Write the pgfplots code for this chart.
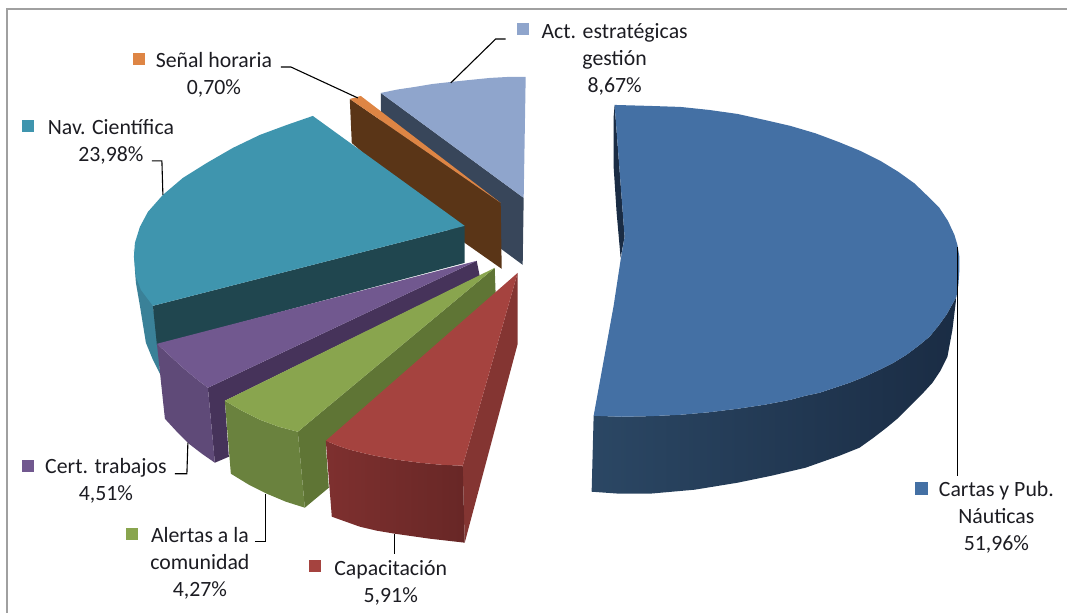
\documentclass[border=0pt]{standalone}
\usepackage{pgfplots}
\usepackage{fontspec}
\setmainfont{Carlito}
\pgfplotsset{compat=1.18}
\definecolor{blueT}{HTML}{4470A4}
\definecolor{blueA}{HTML}{2B4764}
\definecolor{blueB}{HTML}{1A2C44}
\definecolor{actT}{HTML}{8FA5CC}
\definecolor{actS}{HTML}{38465A}
\definecolor{oraT}{HTML}{DE8544}
\definecolor{oraS}{HTML}{5A3517}
\definecolor{teaT}{HTML}{3F95AE}
\definecolor{teaS}{HTML}{20464F}
\definecolor{teaO}{HTML}{3A8198}
\definecolor{purT}{HTML}{71588F}
\definecolor{purS}{HTML}{46335A}
\definecolor{purO}{HTML}{5F4A78}
\definecolor{greT}{HTML}{89A54E}
\definecolor{greS}{HTML}{5F7535}
\definecolor{greO}{HTML}{6A823E}
\definecolor{redT}{HTML}{A5433F}
\definecolor{redS}{HTML}{843532}
\definecolor{redA}{HTML}{7E302F}
\definecolor{redB}{HTML}{682726}
\definecolor{frameC}{HTML}{A0A0A0}
\definecolor{txt}{HTML}{1C1C22}
\begin{document}
\begin{tikzpicture}[lab/.style={align=center,text=txt,font=\fontsize{21.8}{27}\selectfont,inner sep=0pt}]
\begin{axis}[scale only axis,width=1068pt,height=613pt,xmin=0,xmax=1068,ymin=0,ymax=613,y dir=reverse,hide axis,clip=false]
% page extent
\addplot[draw=none] coordinates {(0,0) (1068,613)};
% frame
\addplot[frameC,line width=1.3pt] coordinates {(7,613) (7,9) (1068,9)};
% act estrategicas
\addplot[fill=actS,draw=none] coordinates {(381,93) (524,198) (523,265) (381,160)};
\addplot[fill=actT,draw=none] coordinates {(381,93) (398,89.5) (415,87) (433,84) (451,82) (470,80) (490,78) (508,77) (526,77) (524,198)};
% senal horaria
\addplot[fill=oraS,draw=none] coordinates {(350,99) (501,203) (502,269) (465,243) (352,143)};
\addplot[fill=oraT,draw=none] coordinates {(350,99) (361,96) (501,203)};
% nav cientifica
\addplot[fill=teaO,draw=none] coordinates {(134,250) (135,270) (136,283) (140,306) (146,343) (153,360) (160,374) (159,345) (153,306)};
\addplot[fill=teaS,draw=none] coordinates {(153,306) (465,226) (465,263) (157,345)};
\addplot[fill=teaT,draw=none] coordinates {(313,116) (287,125) (260,135) (233,148) (207,163) (183,178) (163,195) (148,212) (140,227) (135,243) (134,257) (136,277) (141,290) (147,298) (153,306) (465,226)};
% cert trabajos
\addplot[fill=purS,draw=none] coordinates {(208,388) (477,261) (480,276) (225,401) (229,457) (215,463)};
\addplot[fill=purO,draw=none] coordinates {(157,344) (170,356) (183,368) (195,378) (208,388) (215,463) (202,454) (189,444) (177,432) (165,419)};
\addplot[fill=purT,draw=none] coordinates {(157,344) (477,261) (208,388) (195,378) (183,368) (170,356)};
% alertas
\addplot[fill=greS,draw=none] coordinates {(298,432) (495,268) (496,296) (326,445) (329,488) (305,508)};
\addplot[fill=greO,draw=none] coordinates {(225,401) (242,411) (260,420) (279,427) (298,432) (305,508) (286,502) (267,494) (249,485) (231,474)};
\addplot[fill=greT,draw=none] coordinates {(225,401) (495,268) (298,432) (279,427) (260,420) (242,411)};
% capacitacion
\addplot[fill=redS,draw=none] coordinates {(463,466) (518,273) (518,344) (465,543)};
\addplot[left color=redA,right color=redB,draw=none] coordinates {(326,441) (338,446) (350,450) (362,453) (375,456) (397,460) (420,463) (441,465) (463,466) (465,543) (430,539) (395,534) (377,531) (360,527) (346,522) (332,517)};
\addplot[fill=redT,draw=none] coordinates {(326,441) (518,273) (463,466) (441,465) (420,463) (397,460) (375,456) (362,453) (350,450) (338,446)};
% cartas
\addplot[fill=blueB,draw=none] coordinates {(615,105) (614,117) (614,167) (617,213) (621,258) (625,237)};
\addplot[left color=blueA,right color=blueB,draw=none] coordinates {(594,416) (622,417) (651,416.4) (681,415) (709.5,412.5) (738,409) (765,405) (791,400) (806,396) (820,393) (835,388) (850,383) (865,377) (880,370) (894,363) (907,355) (919,346) (930,337) (939,326) (947,315) (957,297) (953,330) (948,357) (941,371) (933,383) (922,395) (910,407) (899,418) (887,428) (874,438) (860,448) (840,456) (806,468) (772,476) (738,483) (695,490) (650,494) (620,494) (592,492)};
\addplot[fill=blueT,draw=none] coordinates {(615,105) (651,106) (681,107) (709.5,110) (738,114) (765,120) (791,126) (816,133.4) (839,142) (861,151) (881,161) (899,172) (915,183.5) (928,196) (940,208) (948.5,221) (955,235) (958,245) (960,257) (960,270) (959,285) (957,297) (947,315) (939,326) (930,337) (919,346) (907,355) (894,363) (880,370) (865,377) (850,383) (835,388) (820,393) (806,396) (791,400) (765,405) (738,409) (709.5,412.5) (681,415) (651,416.4) (622,417) (594,416) (614,306) (621,260) (625,237)};
% leaders
\addplot[black,line width=1.1pt] coordinates {(958,247) (958,476)};
\addplot[black,line width=1.1pt] coordinates {(451,83) (496,39) (506,39)};
\addplot[black,line width=1.1pt] coordinates {(281,67) (291,67) (358,98)};
\addplot[black,line width=1.1pt] coordinates {(152,161) (162,161) (163,195)};
\addplot[black,line width=1.1pt] coordinates {(175,474) (187,474) (188,443)};
\addplot[black,line width=1.1pt] coordinates {(255,542) (266,542) (266,494)};
\addplot[black,line width=1.1pt] coordinates {(395,534) (395,554)};
% legend keys
\addplot[only marks,color=actT,mark=square*,mark size=5.5pt] coordinates {(523,28.5)};
\addplot[only marks,color=oraT,mark=square*,mark size=5.5pt] coordinates {(139,59)};
\addplot[only marks,color=teaT,mark=square*,mark size=5.5pt] coordinates {(28,126)};
\addplot[only marks,color=purT,mark=square*,mark size=5.5pt] coordinates {(28,466)};
\addplot[only marks,color=greT,mark=square*,mark size=5.5pt] coordinates {(132,534)};
\addplot[only marks,color=redT,mark=square*,mark size=5.5pt] coordinates {(315,566)};
\addplot[only marks,color=blueT,mark=square*,mark size=6pt] coordinates {(922,488.5)};
% labels
\node[lab] at (axis cs:615,59) {Act. estratégicas\\gestión\\8,67\%};
\node[lab] at (axis cs:214,75) {Señal horaria\\0,70\%};
\node[lab] at (axis cs:111,142) {Nav. Científica\\23,98\%};
\node[lab] at (axis cs:106,481) {Cert. trabajos\\4,51\%};
\node[lab] at (axis cs:200,564) {Alertas a la\\comunidad\\4,27\%};
\node[lab] at (axis cs:391,583) {Capacitación\\5,91\%};
\node[lab] at (axis cs:997,518) {Cartas y Pub.\\Náuticas\\51,96\%};
\end{axis}
\end{tikzpicture}
\end{document}
